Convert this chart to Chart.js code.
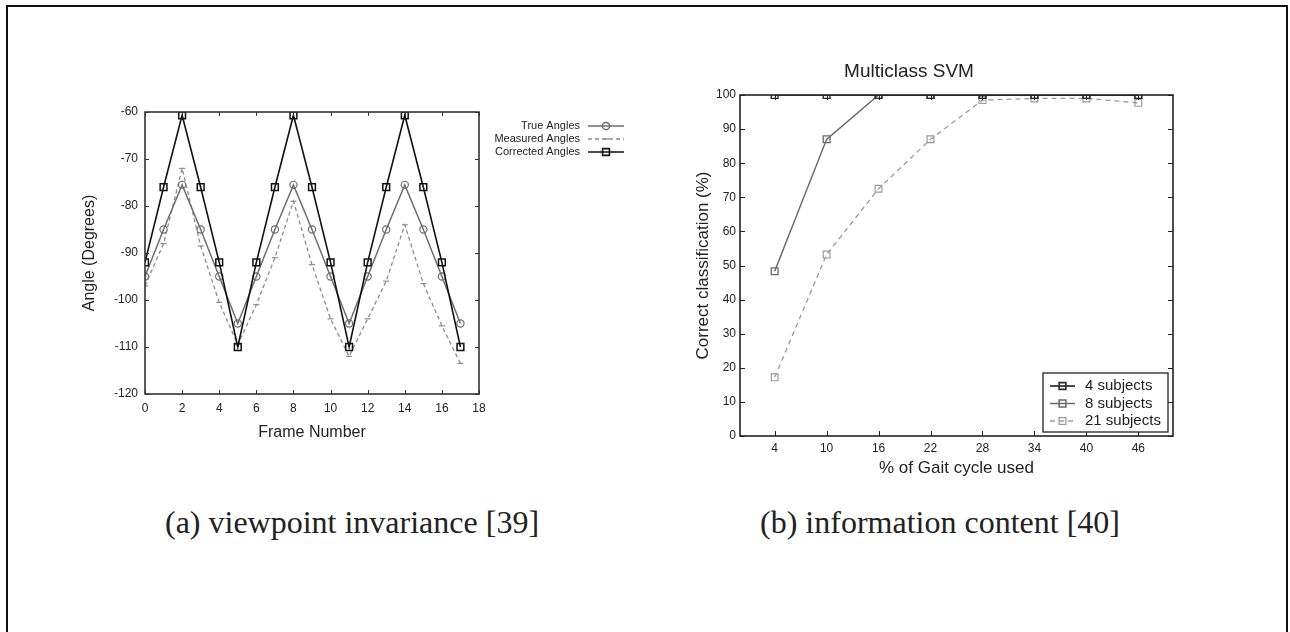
<!DOCTYPE html>
<html><head><meta charset="utf-8">
<script src="https://cdn.jsdelivr.net/npm/chart.js@4.4.1/dist/chart.umd.min.js"></script>
<style>
html,body{margin:0;padding:0;background:#fff;width:1290px;height:632px;overflow:hidden;position:relative;}
#frame{position:absolute;left:6px;top:5px;width:1282px;height:720px;border:2px solid #111;box-sizing:border-box;}
.cv{position:absolute;top:0;}
.cap{position:absolute;top:503px;width:480px;height:38px;line-height:38px;text-align:center;font-family:"Liberation Serif","Times New Roman",serif;font-size:32px;color:#222;white-space:nowrap;}
</style></head>
<body>
<div id="frame"></div>
<canvas id="c1" class="cv" style="left:0" width="645" height="480"></canvas>
<canvas id="c2" class="cv" style="left:645px" width="645" height="480"></canvas>
<div class="cap" style="left:112px">(a) viewpoint invariance [39]</div>
<div class="cap" style="left:700px">(b) information content [40]</div>
<script>
// ---- data (left chart) ----
const frames = [0,1,2,3,4,5,6,7,8,9,10,11,12,13,14,15,16,17];
const trueAngles = [-95,-85,-75.5,-85,-95,-105,-95,-85,-75.5,-85,-95,-105,-95,-85,-75.5,-85,-95,-105];
const measuredAngles = [-97,-88,-72,-88.5,-100.5,-109.5,-101,-91,-79,-92.5,-104,-112,-104,-96,-84,-96.5,-105.5,-113.5];
const correctedAngles = [-92,-76,-60.7,-76,-92,-110,-92,-76,-60.7,-76,-92,-110,-92,-76,-60.7,-76,-92,-110];
const leftSeriesNames = ["True Angles","Measured Angles","Corrected Angles"];
// ---- data (right chart) ----
const gaitPct = [4,10,16,22,28,34,40,46];
const svm4 = [100,100,100,100,100,100,100,100];
const svm8 = [48.3,87,100,100,100,100,100,100];
const svm21 = [17.2,53.2,72.5,87,98.5,99,99,97.7];
const rightSeriesNames = ["4 subjects","8 subjects","21 subjects"];

const FONT = "'Liberation Sans', Arial, Helvetica, sans-serif";
const pts = (xs, ys) => xs.map((x,i)=>({x:x, y:ys[i]}));

// inward ticks + frame
const frameTicks = {
  id:'frameTicks',
  afterDraw(chart, args, o){
    const {ctx, chartArea:a, scales} = chart;
    ctx.save();
    ctx.strokeStyle = o.color; ctx.lineWidth = o.width;
    const L = o.len;
    ctx.beginPath();
    scales.x.ticks.forEach(t=>{
      const px = Math.round(scales.x.getPixelForValue(t.value))+0.5;
      ctx.moveTo(px,a.bottom); ctx.lineTo(px,a.bottom-L);
      if(o.top){ctx.moveTo(px,a.top); ctx.lineTo(px,a.top+L);}
    });
    scales.y.ticks.forEach(t=>{
      const py = Math.round(scales.y.getPixelForValue(t.value))+0.5;
      ctx.moveTo(a.left,py); ctx.lineTo(a.left+L,py);
      if(o.right){ctx.moveTo(a.right,py); ctx.lineTo(a.right-L,py);}
    });
    ctx.stroke();
    ctx.lineWidth = o.frameWidth;
    ctx.strokeRect(a.left, a.top, a.right-a.left, a.bottom-a.top);
    ctx.restore();
  }
};

function drawSample(ctx, ds, x0, x1, y){
  ctx.save();
  ctx.strokeStyle = ds.borderColor; ctx.lineWidth = ds.borderWidth;
  ctx.setLineDash(ds.borderDash || []);
  ctx.beginPath(); ctx.moveTo(x0,y); ctx.lineTo(x1,y); ctx.stroke();
  ctx.setLineDash([]);
  ctx.strokeStyle = ds.pointBorderColor; ctx.fillStyle = ds.pointBackgroundColor;
  Chart.helpers.drawPoint(ctx, {pointStyle: ds.pointStyle, radius: ds.pointRadius, rotation: 0, borderWidth: ds.pointBorderWidth}, (x0+x1)/2, y);
  ctx.restore();
}

const customLegend = {
  id:'customLegend',
  afterDraw(chart, args, o){
    const ctx = chart.ctx;
    ctx.save();
    ctx.font = o.fontSize + 'px ' + FONT;
    ctx.fillStyle = '#222';
    ctx.textBaseline = 'middle';
    if(o.box){
      ctx.strokeStyle = '#222'; ctx.lineWidth = 1.3;
      ctx.fillStyle = '#fff';
      ctx.fillRect(o.box[0],o.box[1],o.box[2],o.box[3]);
      ctx.strokeRect(o.box[0],o.box[1],o.box[2],o.box[3]);
      ctx.fillStyle = '#222';
    }
    chart.data.datasets.forEach((ds,i)=>{
      const y = o.rows[i];
      ctx.textAlign = o.textAlign;
      ctx.fillText(ds.label, o.textX, y);
      drawSample(ctx, ds, o.sample[0], o.sample[1], y);
    });
    ctx.restore();
  }
};

Chart.defaults.font.family = FONT;
Chart.defaults.color = '#222';

// ---------- left chart ----------
new Chart(document.getElementById('c1'), {
  type:'line',
  data:{datasets:[
    {label:leftSeriesNames[2], data:pts(frames, correctedAngles), borderColor:'#111', borderWidth:1.6,
     pointStyle:'rect', pointRadius:4.8, pointBorderColor:'#111', pointBackgroundColor:'rgba(0,0,0,0)', pointBorderWidth:1.5, order:1},
    {label:leftSeriesNames[0], data:pts(frames, trueAngles), borderColor:'#6e6e6e', borderWidth:1.5,
     pointStyle:'circle', pointRadius:3.6, pointBorderColor:'#6e6e6e', pointBackgroundColor:'rgba(0,0,0,0)', pointBorderWidth:1.2, order:2},
    {label:leftSeriesNames[1], data:pts(frames, measuredAngles), borderColor:'#8c8c8c', borderWidth:1.3, borderDash:[4,3],
     pointStyle:'line', pointRadius:3, pointBorderColor:'#8c8c8c', pointBackgroundColor:'rgba(0,0,0,0)', pointBorderWidth:1.2, order:3}
  ]},
  options:{
    responsive:false, animation:false, events:[],
    layout:{padding:{left:0, top:112, right:166, bottom:0}},
    scales:{
      x:{type:'linear', min:0, max:18, ticks:{stepSize:2, padding:7, font:{size:12}, color:'#222'},
         grid:{display:false, drawTicks:false}, border:{display:false},
         title:{display:true, text:'Frame Number', font:{size:16}, color:'#222', padding:{top:0,bottom:37.4}},
         afterFit(s){ s.height = 86; }},
      y:{type:'linear', min:-120, max:-60, ticks:{stepSize:10, padding:7, font:{size:12}, color:'#222'},
         grid:{display:false, drawTicks:false}, border:{display:false},
         title:{display:true, text:'Angle (Degrees)', font:{size:16}, color:'#222', padding:{top:80.4,bottom:0}},
         afterFit(s){ s.width = 145; }}
    },
    plugins:{
      legend:{display:false}, tooltip:{enabled:false},
      frameTicks:{len:4, color:'#333', width:1, top:true, right:true, frameWidth:1.6},
      customLegend:{fontSize:11, textAlign:'right', textX:580, rows:[152,126,139], sample:[588,624]}
    }
  },
  plugins:[frameTicks, customLegend]
});

// ---------- right chart ----------
new Chart(document.getElementById('c2'), {
  type:'line',
  data:{datasets:[
    {label:rightSeriesNames[0], data:pts(gaitPct, svm4), borderColor:'#1e1e1e', borderWidth:1.6,
     pointStyle:'rect', pointRadius:4.8, pointBorderColor:'#2a2a2a', pointBackgroundColor:'rgba(0,0,0,0)', pointBorderWidth:1.4, order:1},
    {label:rightSeriesNames[1], data:pts(gaitPct, svm8), borderColor:'#6a6a6a', borderWidth:1.5,
     pointStyle:'rect', pointRadius:4.8, pointBorderColor:'#6a6a6a', pointBackgroundColor:'rgba(0,0,0,0)', pointBorderWidth:1.3, order:2},
    {label:rightSeriesNames[2], data:pts(gaitPct, svm21), borderColor:'#9a9a9a', borderWidth:1.3, borderDash:[5,4],
     pointStyle:'rect', pointRadius:4.8, pointBorderColor:'#9a9a9a', pointBackgroundColor:'rgba(0,0,0,0)', pointBorderWidth:1.2, order:3}
  ]},
  options:{
    responsive:false, animation:false, events:[],
    layout:{padding:{left:0, top:0, right:117, bottom:0}},
    scales:{
      x:{type:'linear', min:0, max:50,
         afterBuildTicks(s){ s.ticks = gaitPct.map(v=>({value:v})); },
         ticks:{padding:5, font:{size:12}, color:'#222'},
         grid:{display:false, drawTicks:false}, border:{display:false},
         title:{display:true, text:'% of Gait cycle used', font:{size:17}, color:'#222', padding:{top:0,bottom:1.8}},
         afterFit(s){ s.height = 44; }},
      y:{type:'linear', min:0, max:100, ticks:{stepSize:10, padding:4, font:{size:12}, color:'#222'},
         grid:{display:false, drawTicks:false}, border:{display:false},
         title:{display:true, text:'Correct classification (%)', font:{size:17}, color:'#222', padding:{top:47.8,bottom:0}},
         afterFit(s){ s.width = 95; }}
    },
    plugins:{
      legend:{display:false}, tooltip:{enabled:false},
      title:{display:true, text:'Multiclass SVM', font:{size:19, weight:'normal'}, color:'#222', padding:{top:60.6,bottom:11.6}},
      frameTicks:{len:5, color:'#222', width:1, top:true, right:true, frameWidth:1.6},
      customLegend:{fontSize:15, textAlign:'left', textX:440, rows:[386,403.5,421], sample:[405,430], box:[398,373,125,59]}
    }
  },
  plugins:[frameTicks, customLegend]
});
</script>
</body></html>
